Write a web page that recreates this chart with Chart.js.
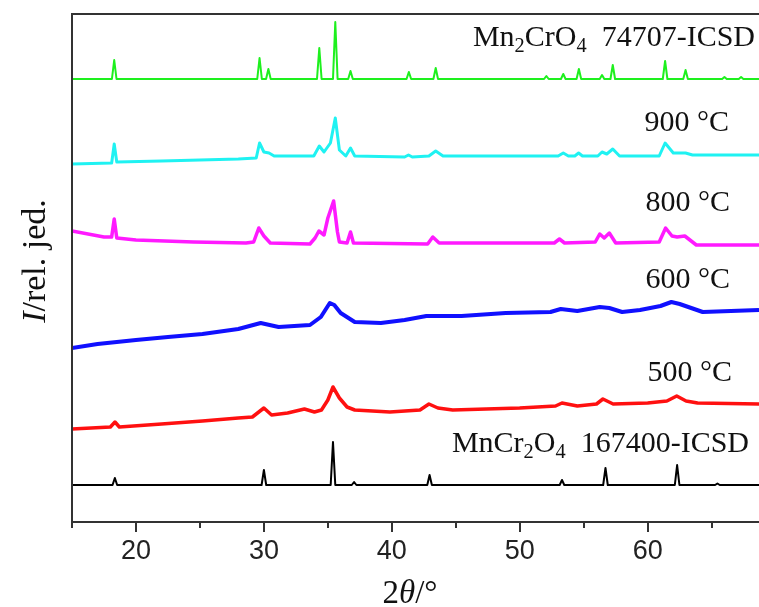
<!DOCTYPE html>
<html>
<head>
<meta charset="utf-8">
<script src="https://cdn.jsdelivr.net/npm/chart.js@4.4.1/dist/chart.umd.min.js"></script>
<style>
    html, body { margin: 0; padding: 0; background: #fff; }
    #wrap { width: 759px; height: 607px; }
</style>
</head>
<body>
<div id="wrap"><canvas id="xrdChart"></canvas></div>
<script>
// 2theta (deg) and stacked intensity (arb. units)

// Mn2CrO4 reference pattern, 74707-ICSD
const mn2cro4X = [15, 18.12, 18.3, 18.48, 29.48, 29.66, 29.84, 30.17, 30.35, 30.53, 34.15, 34.33, 34.51,
    35.4, 35.58, 35.76, 36.59, 36.77, 36.95, 41.15, 41.33, 41.51, 43.25, 43.43, 43.61, 51.9, 52.08, 52.26,
    53.22, 53.4, 53.58, 54.44, 54.62, 54.8, 56.25, 56.43, 56.61, 57.09, 57.27, 57.45, 61.18, 61.36, 61.54,
    62.78, 62.96, 63.14, 65.82, 66.0, 66.18, 67.12, 67.3, 67.48, 68.7];
const mn2cro4Y = [443, 443, 462, 443, 443, 464, 443, 443, 453, 443, 443, 474, 443,
    443, 500, 443, 443, 451, 443, 443, 450, 443, 443, 454, 443, 443, 446, 443,
    443, 448, 443, 443, 453, 443, 443, 447, 443, 443, 457, 443, 443, 461, 443,
    443, 452, 443, 443, 445, 443, 443, 445, 443, 443];

// 900 °C
const t900X = [15, 18.1, 18.3, 18.5, 22, 28, 29.4, 29.66, 30.0, 30.4, 30.8, 33.9, 34.33, 34.7, 35.2, 35.58,
    35.9, 36.4, 36.77, 37.1, 41.0, 41.3, 41.6, 42.9, 43.43, 44.0, 48.9, 53.0, 53.4, 53.8, 54.3, 54.6, 54.9,
    56.1, 56.43, 56.8, 57.27, 57.8, 60.9, 61.36, 62.0, 62.96, 63.5, 68.7];
const t900Y = [358, 359, 378, 360, 361, 363, 364, 379, 370, 369, 366, 366, 376, 370, 379, 404,
    372, 366, 374, 366, 365, 367, 365, 366, 371, 366, 366, 366, 369, 366, 366, 369, 366,
    366, 370, 368, 373, 366, 366, 379, 369, 369, 367, 367];

// 800 °C
const t800X = [15, 17.5, 18.1, 18.3, 18.5, 20, 24.5, 28.6, 29.2, 29.6, 30.0, 30.5, 33.6, 34.0, 34.3, 34.7,
    35.0, 35.45, 35.75, 35.9, 36.5, 36.77, 37.0, 42.8, 43.2, 43.7, 52.7, 53.1, 53.5, 55.9, 56.25, 56.6, 57.0,
    57.5, 60.9, 61.4, 61.9, 62.3, 62.9, 63.8, 68.7];
const t800Y = [291, 285, 285, 303, 284, 282, 280, 279, 280, 294, 286, 279, 278, 284, 291, 287,
    304, 321, 290, 280, 279, 290, 279, 278, 285, 279, 279, 283, 279, 280, 288, 284, 289,
    279, 280, 294, 286, 285, 286, 277, 277];

// 600 °C
const t600X = [15, 17, 20, 22.5, 25.2, 28, 29.75, 31.15, 33.6, 34.45, 35.15, 35.5, 36.0, 37.1, 39.15, 41,
    42.7, 45.45, 48.9, 52.4, 53.2, 54.5, 56.25, 57, 58.0, 59.4, 61.0, 61.85, 62.5, 64.3, 66.5, 68.7];
const t600Y = [174, 178, 182, 185, 188, 193, 199, 195, 197, 205, 219, 217, 209, 200, 199, 202,
    206, 206, 209, 210, 213, 211, 215, 214, 210, 212, 216, 220, 218, 210, 211, 212];

// 500 °C
const t500X = [15, 18.0, 18.36, 18.7, 22, 25.2, 28, 29.1, 30.0, 30.6, 31.85, 33.17, 33.95, 34.5, 35.0, 35.4,
    35.9, 36.5, 37.1, 39.85, 42.2, 42.9, 43.6, 44.76, 49.99, 52.8, 53.3, 54.5, 56.0, 56.5, 57.3, 60.0,
    61.5, 62.27, 63.0, 63.9, 68.7];
const t500Y = [93, 95, 100, 95, 98, 101, 104, 105, 114, 107, 109, 113, 110, 112, 122, 135,
    124, 115, 112, 110, 112, 118, 114, 112, 114, 116, 119, 116, 118, 123, 118, 119,
    121, 126, 121, 119, 118];

// MnCr2O4 reference pattern, 167400-ICSD
const mncr2o4X = [15, 18.17, 18.35, 18.53, 29.82, 30.0, 30.18, 35.22, 35.4, 35.58, 36.87, 37.05, 37.23,
    42.77, 42.95, 43.13, 53.12, 53.3, 53.48, 56.52, 56.7, 56.88, 62.12, 62.3, 62.48, 65.27, 65.45, 65.63, 68.7];
const mncr2o4Y = [37, 37, 44, 37, 37, 52, 37, 37, 80, 37, 37, 40, 37,
    37, 47, 37, 37, 42, 37, 37, 54, 37, 37, 57, 37, 37, 38.5, 37, 37];

const xTicks = [20, 30, 40, 50, 60];
const xMinorTicks = [15, 25, 35, 45, 55, 65];

const toPoints = (xs, ys) => xs.map((x, i) => ({ x: x, y: ys[i] }));

const serif = "'Liberation Serif', 'Times New Roman', serif";

// rich text runs: sub = subscript, it = italic
const seriesLabels = [
    { runs: [{ t: 'Mn' }, { t: '2', sub: true }, { t: 'CrO' }, { t: '4', sub: true }, { t: '  74707-ICSD' }], right: 755, base: 46 },
    { runs: [{ t: '900 °C' }], right: 729, base: 131 },
    { runs: [{ t: '800 °C' }], right: 730, base: 211 },
    { runs: [{ t: '600 °C' }], right: 730, base: 288 },
    { runs: [{ t: '500 °C' }], right: 732, base: 381 },
    { runs: [{ t: 'MnCr' }, { t: '2', sub: true }, { t: 'O' }, { t: '4', sub: true }, { t: '  167400-ICSD' }], right: 749, base: 452 }
];

function runFont(r, size) {
    const s = r.sub ? size * 0.68 : size;
    return (r.it ? 'italic ' : '') + s + 'px ' + serif;
}

function runsWidth(ctx, runs, size) {
    return runs.reduce((w, r) => { ctx.font = runFont(r, size); return w + ctx.measureText(r.t).width; }, 0);
}

function drawRuns(ctx, runs, x, y, size) {
    runs.forEach(r => {
        ctx.font = runFont(r, size);
        ctx.fillText(r.t, x, r.sub ? y + size * 0.2 : y);
        x += ctx.measureText(r.t).width;
    });
}

const frameAndText = {
    id: 'frameAndText',
    afterDraw(chart) {
        const { ctx, chartArea: a, scales: { x } } = chart;
        ctx.save();
        ctx.strokeStyle = '#333';
        ctx.lineWidth = 2;
        ctx.beginPath();
        ctx.moveTo(a.left, a.top); ctx.lineTo(a.right, a.top);
        ctx.moveTo(a.left, a.top - 1); ctx.lineTo(a.left, a.bottom + 1);
        ctx.moveTo(a.left, a.bottom); ctx.lineTo(a.right, a.bottom);
        xTicks.forEach(v => {
            const px = Math.round(x.getPixelForValue(v));
            ctx.moveTo(px, a.bottom); ctx.lineTo(px, a.bottom + 10);
        });
        xMinorTicks.forEach(v => {
            const px = Math.round(x.getPixelForValue(v));
            ctx.moveTo(px, a.bottom); ctx.lineTo(px, a.bottom + 6);
        });
        ctx.stroke();

        ctx.fillStyle = '#111';
        ctx.textBaseline = 'alphabetic';
        ctx.textAlign = 'left';
        const size = 30;
        seriesLabels.forEach(l => {
            const w = runsWidth(ctx, l.runs, size);
            drawRuns(ctx, l.runs, l.right - w, l.base, size);
        });

        // axis titles
        const xTitle = [{ t: '2' }, { t: 'θ', it: true }, { t: '/°' }];
        const tw = runsWidth(ctx, xTitle, 33);
        drawRuns(ctx, xTitle, 410 - tw / 2, 603, 33);

        const yTitle = [{ t: 'I', it: true }, { t: '/rel. jed.' }];
        const yw = runsWidth(ctx, yTitle, 34);
        ctx.translate(45, 261);
        ctx.rotate(-Math.PI / 2);
        drawRuns(ctx, yTitle, -yw / 2, 0, 34);
        ctx.restore();
    }
};

function series(label, xs, ys, color, width) {
    return {
        label: label,
        data: toPoints(xs, ys),
        borderColor: color,
        backgroundColor: color,
        borderWidth: width,
        pointRadius: 0,
        tension: 0,
        borderJoinStyle: 'round',
        fill: false
    };
}

document.addEventListener('DOMContentLoaded', () => {
    new Chart(document.getElementById('xrdChart').getContext('2d'), {
        type: 'line',
        data: {
            datasets: [
                series('Mn2CrO4 74707-ICSD', mn2cro4X, mn2cro4Y, '#1ef01e', 2),
                series('900 °C', t900X, t900Y, '#1ff2f2', 3),
                series('800 °C', t800X, t800Y, '#ff1aff', 3.5),
                series('600 °C', t600X, t600Y, '#1010ff', 4),
                series('500 °C', t500X, t500Y, '#ff1010', 3.5),
                series('MnCr2O4 167400-ICSD', mncr2o4X, mncr2o4Y, '#000000', 2)
            ]
        },
        options: {
            responsive: true,
            maintainAspectRatio: false,
            animation: false,
            layout: { padding: { left: 72, top: 14, right: 0, bottom: 0 } },
            plugins: {
                legend: { display: false },
                tooltip: { enabled: false }
            },
            scales: {
                x: {
                    type: 'linear',
                    min: 15,
                    max: 68.7,
                    afterBuildTicks: s => { s.ticks = xTicks.map(v => ({ value: v })); },
                    afterFit: s => { s.height = 85; },
                    grid: { display: false, drawTicks: false, tickLength: 0 },
                    border: { display: false },
                    ticks: {
                        padding: 13,
                        color: '#222',
                        maxRotation: 0,
                        font: { family: "'Liberation Sans', Arial, sans-serif", size: 27 }
                    }
                },
                y: {
                    display: false,
                    min: 0,
                    max: 508
                }
            }
        },
        plugins: [frameAndText]
    });
});
</script>
</body>
</html>
